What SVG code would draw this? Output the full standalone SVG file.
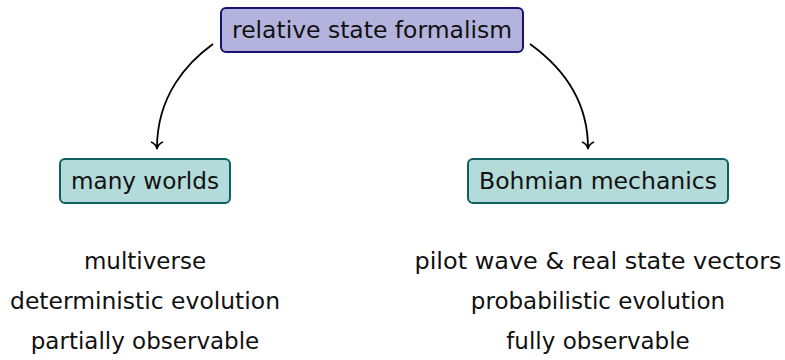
<svg xmlns="http://www.w3.org/2000/svg" width="785" height="360" viewBox="0 0 785 360">
<style>
text{font-family:"DejaVu Sans","Liberation Sans",sans-serif;font-size:23px;fill:#111;text-anchor:middle}
.top{fill:#b3b3dd;stroke:#151570;stroke-width:2}
.leaf{fill:#b3dbd9;stroke:#0e5f5f;stroke-width:2}
.conn{fill:none;stroke:#000;stroke-width:1.8}
.tip{fill:none;stroke:#000;stroke-width:1.6}
</style>
<rect width="785" height="360" fill="#fff"/>
<g id="connectors">
<path class="conn" d="M213,44 C188,62 157,95 157,148"/>
<path class="conn" d="M530,44 C555,62 588,95 588,148"/>
<path class="tip" d="M151,142 Q156,144 157,149 Q158,144 163,142"/>
<path class="tip" d="M582,142 Q587,144 588,149 Q589,144 594,142"/>
</g>
<g id="relative-state">
<rect class="top" x="221" y="8" width="302" height="44" rx="5"/>
<text x="372" y="38" textLength="280" lengthAdjust="spacingAndGlyphs">relative state formalism</text>
</g>
<g id="many-worlds">
<rect class="leaf" x="60" y="159" width="170" height="44" rx="5"/>
<text x="145" y="189" textLength="148" lengthAdjust="spacingAndGlyphs">many worlds</text>
</g>
<g id="bohmian">
<rect class="leaf" x="468" y="159" width="260" height="44" rx="5"/>
<text x="598" y="189" textLength="238" lengthAdjust="spacingAndGlyphs">Bohmian mechanics</text>
</g>
<g id="left-notes">
<text x="145" y="269">multiverse</text>
<text x="145" y="309" textLength="270" lengthAdjust="spacingAndGlyphs">deterministic evolution</text>
<text x="145" y="349">partially observable</text>
</g>
<g id="right-notes">
<text x="598" y="269" textLength="367" lengthAdjust="spacingAndGlyphs">pilot wave &amp; real state vectors</text>
<text x="598" y="309">probabilistic evolution</text>
<text x="598" y="349">fully observable</text>
</g>
</svg>
